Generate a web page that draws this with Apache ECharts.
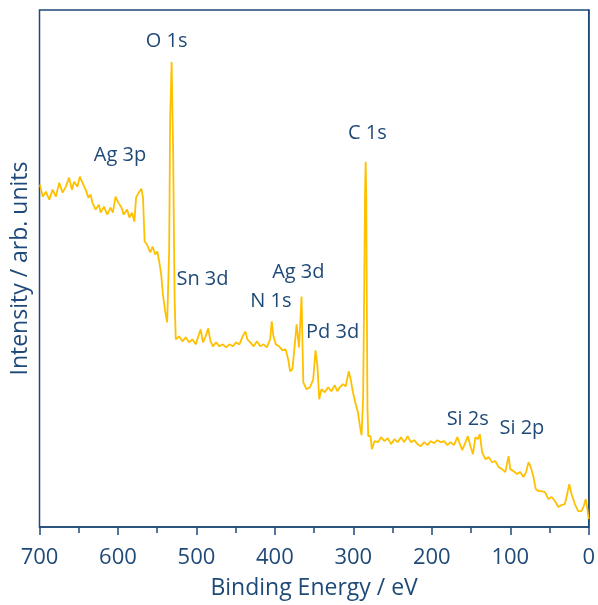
<!DOCTYPE html>
<html>
<head>
<meta charset="utf-8">
<script src="https://cdn.jsdelivr.net/npm/echarts@6/dist/echarts.min.js"></script>
<style>
html,body{margin:0;padding:0;background:#fff;}
#chart{width:598px;height:605px;}
</style>
</head>
<body>
<div id="chart"></div>
<script>
// Binding energy (eV) and intensity (arb. units)
var energy = [
  699.4,696,691.8,687.6,683.3,679.1,674.9,670.6,666.4,662.3,658.8,655.9,651.6,648.7,645.3,641.1,637.7,634.8,632.6,628.5,
  624.3,622.1,617.9,613.6,609.5,606.5,603.1,599.7,595.5,592.6,588.3,585.4,582,579.1,576.9,573.6,570.2,568.1,566,563,
  558.8,555.9,552.5,549.9,547.4,544.9,542.7,539.8,537.3,534.7,533.5,531.6,529.7,527.8,526.3,
  522.1,517.9,513.6,509.4,505.2,500.9,497.6,494.6,491.7,488.3,485,482,479,474.9,470.6,466.4,462.2,457.9,453.7,449.5,
  445.2,441,437.6,435.1,431.3,427.1,422.9,418.6,414.5,410.3,406,404,401.8,398.9,394.6,390.4,386.2,382.8,380.6,377.7,
  375.2,372.3,369.2,366,363.8,359.6,355.3,351.1,348.2,345.7,343.5,340.6,336.3,332.1,328,323.7,320.4,317.3,313.1,309.7,
  305.9,303.4,300.5,297.6,294.2,291,289.5,287.5,286,285,284.3,283.5,282.8,282,281,280.2,278.1,276.4,273,
  268.8,264.7,260.3,256.2,252,247.7,243.5,239.3,235,230.8,226.7,222.4,218.2,214,209.7,205.5,201.3,197,192.9,188.7,
  184.4,180.2,176,171.7,167.5,164.1,161.2,157,154,150.7,147.6,144.4,141.3,138.8,135.9,131.7,127.4,123.2,119,114.7,
  110.5,106.4,102.1,100,95.7,91.6,87.4,83.1,79.8,76.7,73.8,70.4,67.5,64.1,59.9,55.7,51.4,47.2,43.1,38.7,
  34.6,30.4,27.4,24.8,21.9,17.7,13.4,9.2,6.3,3.8,1.7,0
];
var intensity = [
  343,331,336,328,338,331,345,335,341,350,338,346,341,351,345,338,330,333,325,318,
  323,315,321,313,320,315,331,325,320,313,318,310,315,306,330,335,339,330,286,283,
  275,281,273,276,266,253,233,216,205,278,408,466,378,228,188,
  191,186,190,185,188,183,191,198,185,191,199,186,181,185,181,183,180,183,181,185,
  183,191,196,188,185,181,186,181,183,180,188,206,191,183,181,177,178,167,156,158,
  178,203,180,231,145,138,140,148,177,161,128,138,135,140,136,142,136,140,143,141,
  156,148,135,125,115,98,92,130,250,340,366,330,220,120,91,92,91,78,86,
  85,90,86,89,83,88,85,90,85,91,85,87,83,81,85,82,86,84,87,85,
  86,82,85,82,90,83,77,85,91,81,73,90,88,93,75,68,70,65,66,60,
  58,55,71,58,56,53,55,50,55,65,60,50,38,36,36,35,28,30,26,20,
  22,23,33,43,33,23,16,16,21,28,18,8
];
// Peak annotations: name, energy (eV), intensity
var peakNames = ["O 1s","Ag 3p","C 1s","Sn 3d","Ag 3d","N 1s","Pd 3d","Si 2s","Si 2p"];
var peakEnergy = [537.9,597.4,282.1,492.3,370.1,405,326.4,154.2,85.2];
var peakIntensity = [487,372,394.5,248,255,226,195,108,99];
var xTicks = {min:0, max:700, interval:100};

var axisColor = '#1f4a78';
var lineData = energy.map(function(e,i){return [e, intensity[i]];});
var labelData = peakNames.map(function(n,i){return {name:n, value:[peakEnergy[i], peakIntensity[i]]};});

var chart = echarts.init(document.getElementById('chart'), null, {renderer:'canvas'});
chart.setOption({
  animation:false,
  backgroundColor:'#ffffff',
  grid:{left:39.5, right:5.7, top:10, bottom:76.7, show:true, borderColor:axisColor, borderWidth:1.5, backgroundColor:'transparent'},
  xAxis:{
    type:'value', inverse:true, min:xTicks.min, max:xTicks.max, interval:xTicks.interval,
    name:'Binding Energy / eV', nameLocation:'middle', nameGap:50,
    nameTextStyle:{fontFamily:'Open Sans', fontSize:23, color:axisColor},
    axisLine:{show:true, lineStyle:{color:axisColor, width:1.5}},
    axisTick:{show:true, length:8, lineStyle:{color:axisColor, width:1.5}},
    minorTick:{show:true, splitNumber:2, length:6, lineStyle:{color:axisColor, width:1.5}},
    axisLabel:{fontFamily:'Open Sans', fontSize:22, color:axisColor, margin:20},
    splitLine:{show:false}
  },
  yAxis:{
    type:'value', min:0, max:518,
    name:'Intensity / arb. units', nameLocation:'middle', nameGap:8,
    nameTextStyle:{fontFamily:'Open Sans', fontSize:23, color:axisColor},
    axisLine:{show:true, lineStyle:{color:axisColor, width:1.5}},
    axisTick:{show:false}, axisLabel:{show:false}, splitLine:{show:false}
  },
  series:[
    {type:'line', data:lineData, showSymbol:false, symbol:'none',
     lineStyle:{color:'#FFC000', width:1.8}, z:2},
    {type:'scatter', data:labelData, symbolSize:0, silent:true, z:3,
     itemStyle:{opacity:1},
     label:{show:true, position:'inside', formatter:'{b}', fontFamily:'Open Sans', fontSize:20,
            color:axisColor, opacity:1, textBorderWidth:0}}
  ]
});
</script>
</body>
</html>
